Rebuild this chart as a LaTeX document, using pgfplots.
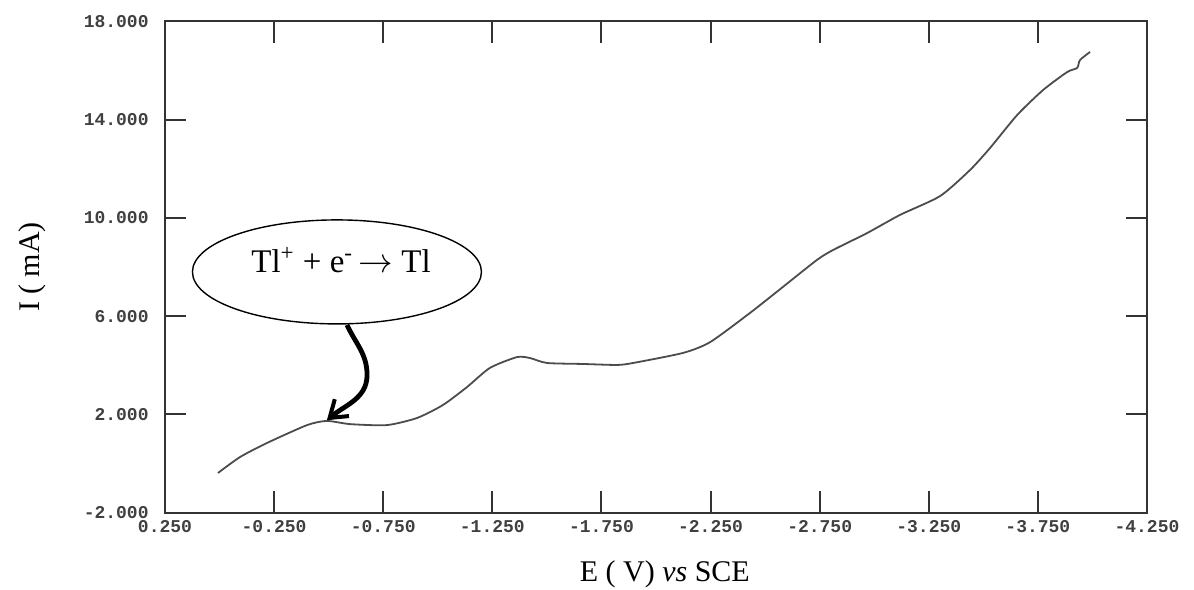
\documentclass[border=0pt]{standalone}
\usepackage{fontspec}
\setmainfont{Liberation Serif}
\newfontfamily\tickfont{Liberation Mono}
\usepackage{pgfplots}
\pgfplotsset{compat=1.18}
\usetikzlibrary{arrows.meta,shapes.geometric}

\begin{document}
\begin{tikzpicture}
\useasboundingbox (-82.5pt,-38.25pt) rectangle (514.5pt,256.25pt);
\begin{axis}[
  at={(0pt,0pt)}, anchor=south west,
  scale only axis, width=491pt, height=245.5pt,
  x dir=reverse, xmin=-4.25, xmax=0.25, ymin=-2, ymax=18,
  xtick={0.25,-0.25,-0.75,-1.25,-1.75,-2.25,-2.75,-3.25,-3.75,-4.25},
  xticklabels={0.250,-0.250,-0.750,-1.250,-1.750,-2.250,-2.750,-3.250,-3.750,-4.250},
  ytick={-2,2,6,10,14,18},
  yticklabels={-2.000,2.000,6.000,10.000,14.000,18.000},
  tick align=inside, tick pos=both, major tick length=10.5pt,
  axis line style={line width=1pt, black!80},
  every tick/.style={line width=1pt, black!80},
  ticklabel style={font=\tickfont\bfseries\fontsize{9}{10}\selectfont, text=black!75},
  xticklabel style={anchor=north, inner sep=0pt, yshift=-4pt},
  yticklabel style={anchor=east, inner sep=0pt, xshift=-8pt},
  xlabel={E ( V) \textit{vs} SCE},
  ylabel={I ( mA)},
  xlabel style={at={(axis description cs:0.509,-0.1415)}, anchor=base, font=\fontsize{15}{17}\selectfont},
  ylabel style={at={(axis description cs:-0.1354,0.5)}, anchor=center, font=\fontsize{15}{17}\selectfont},
  clip=false,
]
\addplot[black!70, line width=0.9pt, smooth, tension=0.4] coordinates {
(0.007,-0.39) (-0.094,0.26) (-0.217,0.83) (-0.401,1.56) (-0.492,1.73)
(-0.598,1.60) (-0.767,1.56) (-0.905,1.85) (-1.024,2.38) (-1.134,3.11)
(-1.239,3.89) (-1.363,4.33) (-1.423,4.29) (-1.501,4.09) (-1.666,4.05)
(-1.821,4.01) (-1.895,4.09) (-2.124,4.50) (-2.248,4.94) (-2.431,6.13)
(-2.582,7.19) (-2.738,8.29) (-2.811,8.69) (-2.967,9.38) (-3.118,10.12)
(-3.302,10.89) (-3.439,11.95) (-3.531,12.85) (-3.655,14.19) (-3.774,15.21)
(-3.884,15.94) (-3.930,16.11) (-3.943,16.43) (-3.989,16.76)
};
\node[ellipse, draw=black, line width=0.7pt, minimum width=144.5pt, minimum height=52pt, inner sep=0pt]
  at (axis cs:-0.538,7.80) {};
\node[anchor=base, inner sep=0pt, font=\fontsize{16.5}{18}\selectfont]
  at (axis cs:-0.557,7.76) {Tl\textsuperscript{+} + e\textsuperscript{-}\,$\rightarrow$ Tl};
\draw[line width=2.4pt, black, -{Straight Barb[length=8pt,width=11pt,line width=2pt]}]
  (axis cs:-0.584,5.64) to[out=-65,in=90] (axis cs:-0.676,3.60) to[out=-90,in=40] (axis cs:-0.492,1.76);
\end{axis}
\end{tikzpicture}
\end{document}
